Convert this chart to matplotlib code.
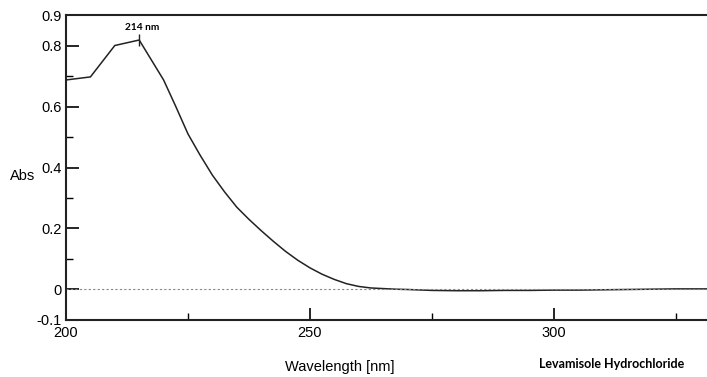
import matplotlib
matplotlib.use("Agg")
import matplotlib.pyplot as plt
from matplotlib.ticker import MultipleLocator

# espectro UV
wavelength = [200, 205, 210, 215, 220, 222.5, 225, 227.5, 230, 232.5, 235, 237.5,
              240, 242.5, 245, 247.5, 250, 252.5, 255, 257.5, 260, 262.5, 265, 267.5,
              270, 275, 280, 285, 290, 295, 300, 305, 310, 315, 320, 325, 330, 335]
absorb = [0.687, 0.697, 0.800, 0.818, 0.687, 0.600, 0.510, 0.440, 0.375, 0.320, 0.270,
          0.230, 0.193, 0.158, 0.125, 0.096, 0.071, 0.050, 0.033, 0.019, 0.010, 0.005,
          0.003, 0.001, 0.000, -0.003, -0.004, -0.004, -0.003, -0.003, -0.002, -0.002,
          -0.001, 0.000, 0.001, 0.002, 0.002, 0.002]

peak_x = 215
peak_y = 0.818
peak_label = "214 nm"
sample_name = "Levamisole Hydrochloride"

plt.rcParams['font.family'] = ['Liberation Sans', 'DejaVu Sans']

fig = plt.figure(figsize=(7.07, 3.77), dpi=100)
ax = fig.add_axes([0.0934, 0.1512, 0.9066, 0.809])

ax.plot(wavelength, absorb, color='#222222', linewidth=1.1)
ax.axhline(0, color='#888888', linewidth=0.8, linestyle=(0, (2, 2)))

# marcador do pico
ax.plot([peak_x], [peak_y], marker='|', markersize=9, color='#222222', markeredgewidth=1)
ax.text(peak_x + 0.6, peak_y + 0.025, peak_label, ha='center', va='bottom',
        fontsize=7.3, fontweight='bold', family=['Lato', 'DejaVu Sans'])

ax.set_xlim(200, 331.4)
ax.set_ylim(-0.1, 0.9)

ax.set_xticks([200, 250, 300])
ax.xaxis.set_minor_locator(MultipleLocator(25))
ax.set_yticks([-0.1, 0, 0.2, 0.4, 0.6, 0.8, 0.9])
ax.set_yticklabels(['-0.1', '0', '0.2', '0.4', '0.6', '0.8', '0.9'])
ax.yaxis.set_minor_locator(MultipleLocator(0.1))

ax.tick_params(axis='both', which='major', direction='in', length=9, width=1.2,
               labelsize=10.5, pad=3)
ax.tick_params(axis='both', which='minor', direction='in', length=5, width=1.0)
ax.tick_params(axis='x', which='major', pad=4)

for s in ['left', 'bottom', 'top']:
    ax.spines[s].set_linewidth(1.5)
    ax.spines[s].set_color('#222222')
ax.spines['right'].set_visible(False)

ax.set_xlabel("Wavelength [nm]", fontsize=10.5)
ax.xaxis.set_label_coords((340 - 66) / 641, -0.13)
ax.set_ylabel("Abs", fontsize=10.5, rotation=0, ha='center', va='center')
ax.yaxis.set_label_coords(-0.067, 0.472)

fig.text(612 / 707, 1 - 364 / 377, sample_name, ha='center', va='center',
         fontsize=9, fontweight='bold', family=['Lato', 'DejaVu Sans'])

plt.savefig("out.png", dpi=100)
